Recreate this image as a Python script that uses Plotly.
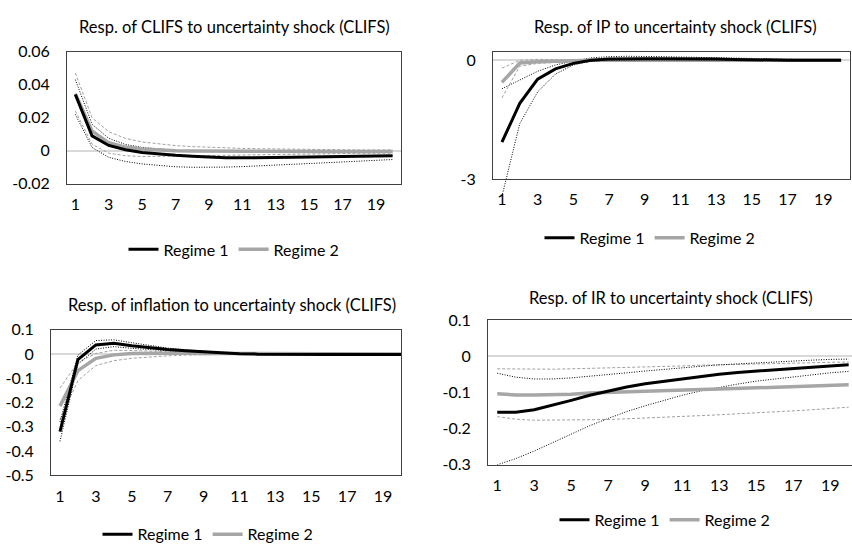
import plotly.graph_objects as go

W, H = 852, 552
periods = list(range(1, 21))
x_tickvals = [1, 3, 5, 7, 9, 11, 13, 15, 17, 19]
x_ticktext = ["1", "3", "5", "7", "9", "11", "13", "15", "17", "19"]

# Response of CLIFS
clifs_r1 = [0.034, 0.009, 0.0032, 0.0006, -0.001, -0.002, -0.0028, -0.0034, -0.0039, -0.0042,
            -0.0043, -0.0043, -0.0042, -0.0040, -0.0038, -0.0036, -0.0034, -0.0032, -0.0030, -0.0030]
clifs_r2 = [0.0345, 0.012, 0.0048, 0.0022, 0.0010, 0.0004, 0.0, -0.0002, -0.0003, -0.0004,
            -0.0005, -0.0005, -0.0005, -0.0005, -0.0005, -0.0005, -0.0005, -0.0005, -0.0005, -0.0005]
clifs_r1_hi = [0.043, 0.016, 0.0075, 0.0038, 0.002, 0.001, 0.0003, -0.0002, -0.0005, -0.0007,
               -0.0008, -0.0009, -0.001, -0.001, -0.001, -0.001, -0.001, -0.001, -0.001, -0.001]
clifs_r1_lo = [0.022, 0.002, -0.004, -0.0065, -0.008, -0.009, -0.0097, -0.0100, -0.0101, -0.0099,
               -0.0096, -0.0092, -0.0088, -0.0083, -0.0078, -0.0073, -0.0068, -0.0063, -0.0058, -0.0053]
clifs_r2_hi = [0.047, 0.020, 0.0115, 0.0075, 0.0053, 0.004, 0.0031, 0.0025, 0.002, 0.0017,
               0.0014, 0.0012, 0.001, 0.0009, 0.0008, 0.0007, 0.0006, 0.0005, 0.0005, 0.0005]
clifs_r2_lo = [0.024, 0.004, -0.0015, -0.003, -0.0035, -0.0035, -0.0033, -0.0031, -0.0029, -0.0027,
               -0.0025, -0.0023, -0.0021, -0.0020, -0.0019, -0.0018, -0.0017, -0.0016, -0.0015, -0.0014]
clifs_yvals = [0.06, 0.04, 0.02, 0, -0.02]
clifs_ytext = ["0.06", "0.04", "0.02", "0", "-0.02"]

# Response of IP
ip_r1 = [-2.07, -1.09, -0.48, -0.22, -0.08, 0.0, 0.03, 0.04, 0.04, 0.04,
         0.04, 0.04, 0.03, 0.02, 0.01, 0.01, 0.0, 0.0, 0.0, 0.0]
ip_r2 = [-0.56, -0.07, -0.04, -0.02, -0.01, 0.0, 0.0, 0.0, 0.0, 0.0,
         0.0, 0.0, 0.0, 0.0, 0.0, 0.0, 0.0, 0.0, 0.0, 0.0]
ip_r1_hi = [-0.72, -0.50, -0.28, -0.12, -0.02, 0.06, 0.09, 0.10, 0.10, 0.09,
            0.08, 0.07, 0.06, 0.05, 0.04, 0.03, 0.03, 0.02, 0.02, 0.02]
ip_r1_lo = [-3.44, -1.60, -0.80, -0.35, -0.12, -0.02, 0.0, 0.01, 0.01, 0.01,
            0.01, 0.01, 0.0, 0.0, 0.0, 0.0, 0.0, 0.0, 0.0, 0.0]
ip_r2_hi = [-0.20, 0.0, 0.02, 0.02, 0.01, 0.01, 0.0, 0.0, 0.0, 0.0,
            0.0, 0.0, 0.0, 0.0, 0.0, 0.0, 0.0, 0.0, 0.0, 0.0]
ip_r2_lo = [-0.95, -0.15, -0.08, -0.05, -0.03, -0.01, 0.0, 0.0, 0.0, 0.0,
            0.0, 0.0, 0.0, 0.0, 0.0, 0.0, 0.0, 0.0, 0.0, 0.0]
ip_yvals = [0, -3]
ip_ytext = ["0", "-3"]

# Response of inflation
inf_r1 = [-0.32, -0.023, 0.037, 0.044, 0.034, 0.025, 0.018, 0.013, 0.008, 0.004,
          0.001, -0.001, -0.002, -0.002, -0.002, -0.002, -0.002, -0.002, -0.002, -0.002]
inf_r2 = [-0.215, -0.069, -0.018, -0.004, 0.002, 0.003, 0.003, 0.003, 0.002, 0.002,
          0.001, 0.001, 0.0, 0.0, 0.0, 0.0, 0.0, 0.0, 0.0, 0.0]
inf_r1_hi = [-0.28, -0.005, 0.055, 0.058, 0.046, 0.034, 0.024, 0.017, 0.011, 0.006,
             0.003, 0.001, 0.0, 0.0, 0.0, 0.0, 0.0, 0.0, 0.0, 0.0]
inf_r1_lo = [-0.36, -0.042, 0.020, 0.030, 0.023, 0.017, 0.012, 0.008, 0.005, 0.002,
             0.0, -0.002, -0.003, -0.003, -0.003, -0.003, -0.003, -0.003, -0.003, -0.003]
inf_r2_hi = [-0.14, -0.035, 0.002, 0.015, 0.014, 0.011, 0.008, 0.006, 0.004, 0.003,
             0.002, 0.001, 0.001, 0.0, 0.0, 0.0, 0.0, 0.0, 0.0, 0.0]
inf_r2_lo = [-0.27, -0.11, -0.048, -0.028, -0.018, -0.012, -0.008, -0.005, -0.003, -0.002,
             -0.001, -0.001, 0.0, 0.0, 0.0, 0.0, 0.0, 0.0, 0.0, 0.0]
inf_yvals = [0.1, 0, -0.1, -0.2, -0.3, -0.4, -0.5]
inf_ytext = ["0.1", "0", "-0.1", "-0.2", "-0.3", "-0.4", "-0.5"]

# Response of the interest rate
ir_r1 = [-0.155, -0.155, -0.148, -0.136, -0.122, -0.108, -0.096, -0.085, -0.076, -0.069,
         -0.062, -0.056, -0.050, -0.045, -0.041, -0.037, -0.033, -0.030, -0.027, -0.024]
ir_r2 = [-0.104, -0.107, -0.107, -0.107, -0.105, -0.102, -0.100, -0.098, -0.097, -0.095,
         -0.094, -0.092, -0.091, -0.089, -0.088, -0.086, -0.085, -0.083, -0.081, -0.079]
ir_r1_hi = [-0.047, -0.058, -0.063, -0.063, -0.060, -0.056, -0.051, -0.046, -0.041, -0.036,
            -0.032, -0.028, -0.024, -0.021, -0.018, -0.016, -0.013, -0.011, -0.009, -0.008]
ir_r1_lo = [-0.300, -0.283, -0.262, -0.238, -0.214, -0.192, -0.172, -0.153, -0.137, -0.122,
            -0.108, -0.096, -0.086, -0.077, -0.069, -0.063, -0.057, -0.051, -0.046, -0.042]
ir_r2_hi = [-0.035, -0.036, -0.036, -0.036, -0.035, -0.034, -0.033, -0.031, -0.030, -0.028,
            -0.027, -0.025, -0.024, -0.023, -0.021, -0.020, -0.019, -0.018, -0.017, -0.016]
ir_r2_lo = [-0.167, -0.174, -0.177, -0.177, -0.177, -0.176, -0.175, -0.173, -0.171, -0.169,
            -0.167, -0.164, -0.162, -0.159, -0.157, -0.154, -0.151, -0.148, -0.145, -0.141]
ir_yvals = [0.1, 0, -0.1, -0.2, -0.3]
ir_ytext = ["0.1", "0", "-0.1", "-0.2", "-0.3"]

FONT = "Lato"
BLACK = "#000000"
GREY = "#A6A6A6"
BAND_GREY = "#A0A0A0"


def px_x(p):
    return p / W


def px_y(p):
    return 1 - p / H


# panel geometry in pixels: (left, right, top, bottom), x range, y range
panels = [
    dict(box=(67, 401, 43, 180), xr=[0.5, 20.5], yr=[-0.02, 0.06],
         yv=clifs_yvals, yt=clifs_ytext,
         title="Resp. of CLIFS to uncertainty shock (CLIFS)", tpos=(234, 18), lpos=(234, 248),
         data=(clifs_r1, clifs_r2, clifs_r1_hi, clifs_r1_lo, clifs_r2_hi, clifs_r2_lo)),
    dict(box=(493, 850, 43, 175), xr=[0.5, 20.5], yr=[-3, 0.22],
         yv=ip_yvals, yt=ip_ytext,
         title="Resp. of IP to uncertainty shock (CLIFS)", tpos=(675, 18), lpos=(650, 236),
         data=(ip_r1, ip_r2, ip_r1_hi, ip_r1_lo, ip_r2_hi, ip_r2_lo)),
    dict(box=(51, 401, 331, 482), xr=[0.5, 20.0], yr=[-0.5, 0.1],
         yv=inf_yvals, yt=inf_ytext,
         title="Resp. of inflation to uncertainty shock (CLIFS)", tpos=(232, 306), lpos=(208, 543),
         data=(inf_r1, inf_r2, inf_r1_hi, inf_r1_lo, inf_r2_hi, inf_r2_lo)),
    dict(box=(488, 852, 321, 471), xr=[0.5, 20.18], yr=[-0.3, 0.1],
         yv=ir_yvals, yt=ir_ytext,
         title="Resp. of IR to uncertainty shock (CLIFS)", tpos=(671, 298), lpos=(665, 528),
         data=(ir_r1, ir_r2, ir_r1_hi, ir_r1_lo, ir_r2_hi, ir_r2_lo)),
]

fig = go.Figure()
annotations = []
layout = {}

for i, p in enumerate(panels, start=1):
    sfx = "" if i == 1 else str(i)
    xa, ya = "x" + sfx, "y" + sfx
    left, right, top, bottom = p["box"]
    layout["xaxis" + sfx] = dict(
        domain=[px_x(left), min(px_x(right), 1.0)], range=p["xr"], anchor=ya,
        tickvals=x_tickvals, ticktext=x_ticktext, showgrid=False, zeroline=False,
        showline=True, linecolor="#404040", linewidth=1, mirror=True,
        ticks="outside", ticklen=6, tickcolor="rgba(0,0,0,0)",
        tickfont=dict(family=FONT, size=16, color="#000"),
    )
    layout["yaxis" + sfx] = dict(
        domain=[px_y(bottom), px_y(top)], range=p["yr"], anchor=xa,
        tickvals=p["yv"], ticktext=p["yt"], showgrid=False,
        zeroline=True, zerolinecolor="#D9D9D9", zerolinewidth=1.5,
        showline=True, linecolor="#404040", linewidth=1, mirror=(i != 4),
        ticks="outside", ticklen=13, tickcolor="rgba(0,0,0,0)",
        tickfont=dict(family=FONT, size=16, color="#000"),
    )
    r1, r2, r1_hi, r1_lo, r2_hi, r2_lo = p["data"]
    leg = "legend" + sfx

    band_axes = (xa, ya)
    if i == 2:
        # extra axes with the same scale that reach below the frame,
        # so the lower band can run past the bottom edge
        ext = 25
        scale = (p["yr"][1] - p["yr"][0]) / (bottom - top)
        layout["xaxis5"] = dict(domain=layout["xaxis2"]["domain"], range=p["xr"],
                                anchor="y5", visible=False)
        layout["yaxis5"] = dict(domain=[px_y(bottom + ext), px_y(top)],
                                range=[p["yr"][0] - ext * scale, p["yr"][1]],
                                anchor="x5", visible=False)
        band_axes = ("x5", "y5")

    for vals, color, dash in ((r2_hi, BAND_GREY, "3px,2px"), (r2_lo, BAND_GREY, "3px,2px"),
                              (r1_hi, BLACK, "1px,1.5px"), (r1_lo, BLACK, "1px,1.5px")):
        axes = band_axes if vals is ip_r1_lo else (xa, ya)
        fig.add_trace(go.Scatter(
            x=periods, y=vals, mode="lines", xaxis=axes[0], yaxis=axes[1],
            line=dict(color=color, width=1, dash=dash), showlegend=False, hoverinfo="skip",
        ))
    fig.add_trace(go.Scatter(
        x=periods, y=r2, mode="lines", name="Regime 2", xaxis=xa, yaxis=ya,
        line=dict(color=GREY, width=3.5), legend=leg, legendrank=2,
    ))
    fig.add_trace(go.Scatter(
        x=periods, y=r1, mode="lines", name="Regime 1", xaxis=xa, yaxis=ya,
        line=dict(color=BLACK, width=3), legend=leg, legendrank=1,
    ))

    layout[leg] = dict(
        orientation="h", x=px_x(p["lpos"][0]), y=px_y(p["lpos"][1]),
        xanchor="center", yanchor="middle", bgcolor="rgba(0,0,0,0)",
        font=dict(family=FONT, size=16, color="#000"), traceorder="normal",
        itemwidth=30, entrywidthmode="pixels",
    )
    annotations.append(dict(
        text=p["title"], x=px_x(p["tpos"][0]), y=px_y(p["tpos"][1]),
        xref="paper", yref="paper", xanchor="center", yanchor="middle",
        showarrow=False, font=dict(family=FONT, size=16.5, color="#000"),
    ))

fig.update_layout(
    width=W, height=H, margin=dict(l=0, r=0, t=0, b=0),
    paper_bgcolor="white", plot_bgcolor="rgba(0,0,0,0)",
    annotations=annotations, **layout,
)

fig.write_html("out.html")
